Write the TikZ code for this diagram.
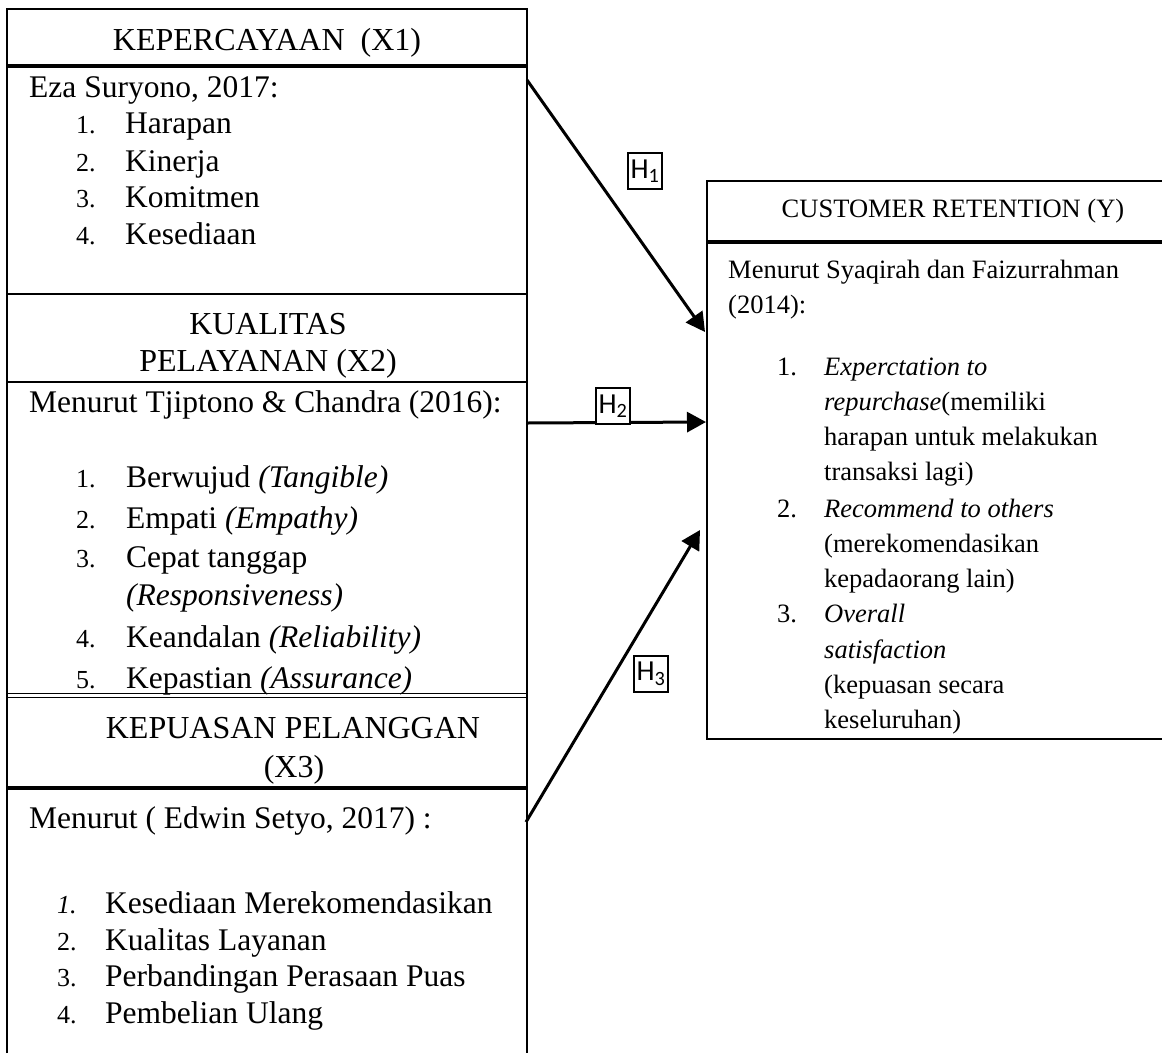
\documentclass[tikz,border=0pt]{standalone}
\usepackage{fontspec}
\setmainfont{Liberation Serif}
\newfontfamily\hypfont{Carlito}
\usetikzlibrary{arrows.meta}

\tikzset{
  head/.style={anchor=base, inner sep=0pt, font=\fontsize{32}{38}\selectfont},
  txt/.style={anchor=base west, inner sep=0pt, font=\fontsize{31.5}{38}\selectfont},
  num/.style={anchor=base west, inner sep=0pt, font=\fontsize{26}{30}\selectfont},
  rtxt/.style={anchor=base west, inner sep=0pt, font=\fontsize{26.5}{32}\selectfont},
  hyp/.style={draw, line width=1.5pt, inner sep=1pt, minimum width=34pt, minimum height=36pt, font=\hypfont\fontsize{29}{30}\selectfont},
  link/.style={line width=3pt, -{Triangle[length=19pt,width=20pt]}},
}

\begin{document}
\begin{tikzpicture}[x=1pt,y=-1pt]
\useasboundingbox (0,0) rectangle (1162,1053);

% left column
\draw[line width=2pt] (7,1053) -- (7,9) -- (527,9) -- (527,1053);
\draw[line width=3.5pt] (7,66) -- (527,66);
\draw[line width=2pt] (7,294) -- (527,294);
\draw[line width=2pt] (7,382) -- (527,382);
\draw[line width=1pt] (7,693) -- (527,693) (7,697) -- (527,697);
\draw[line width=3.5pt] (7,788) -- (527,788);

% right box
\draw[line width=2.5pt] (1162,181) -- (707,181) -- (707,739) -- (1162,739);
\draw[line width=3.5pt] (707,242) -- (1162,242);

% X1
\node[head] (X1) at (267,50) {KEPERCAYAAN\ \ (X1)};
\node[txt] (X1src) at (29,97) {Eza Suryono, 2017:};
\node[num] (X1n1) at (76,133) {1.};
\node[txt] (X1i1) at (125,133) {Harapan};
\node[num] (X1n2) at (76,171) {2.};
\node[txt] (X1i2) at (125,171) {Kinerja};
\node[num] (X1n3) at (76,207) {3.};
\node[txt] (X1i3) at (125,207) {Komitmen};
\node[num] (X1n4) at (76,244) {4.};
\node[txt] (X1i4) at (125,244) {Kesediaan};

% X2
\node[head] (X2a) at (268,334) {KUALITAS};
\node[head] (X2) at (268,371) {PELAYANAN (X2)};
\node[txt] (X2src) at (29,412) {Menurut Tjiptono \& Chandra (2016):};
\node[num] (X2n1) at (76,487) {1.};
\node[txt] (X2i1) at (126,487) {Berwujud \textit{(Tangible)}};
\node[num] (X2n2) at (76,528) {2.};
\node[txt] (X2i2) at (126,528) {Empati \textit{(Empathy)}};
\node[num] (X2n3) at (76,567) {3.};
\node[txt] (X2i3) at (126,567) {Cepat tanggap};
\node[txt] (X2i3b) at (126,605) {\textit{(Responsiveness)}};
\node[num] (X2n4) at (76,647) {4.};
\node[txt] (X2i4) at (126,647) {Keandalan \textit{(Reliability)}};
\node[num] (X2n5) at (76,688) {5.};
\node[txt] (X2i5) at (126,688) {Kepastian \textit{(Assurance)}};

% X3
\node[head] (X3a) at (293,738) {KEPUASAN PELANGGAN};
\node[head] (X3) at (294,777) {(X3)};
\node[txt] (X3src) at (29,828) {Menurut ( Edwin Setyo, 2017) :};
\node[num] (X3n1) at (57,913) {\textit{1.}};
\node[txt] (X3i1) at (105,913) {Kesediaan Merekomendasikan};
\node[num] (X3n2) at (57,950) {2.};
\node[txt] (X3i2) at (105,950) {Kualitas Layanan};
\node[num] (X3n3) at (57,986) {3.};
\node[txt] (X3i3) at (105,986) {Perbandingan Perasaan Puas};
\node[num] (X3n4) at (57,1023) {4.};
\node[txt] (X3i4) at (105,1023) {Pembelian Ulang};

% Y
\node[head, font=\fontsize{26.5}{32}\selectfont] (Y) at (953,217) {CUSTOMER RETENTION (Y)};
\node[rtxt] (Ysrc) at (728,278) {Menurut Syaqirah dan Faizurrahman};
\node[rtxt] (Ysrc2) at (728,313) {(2014):};
\node[rtxt] (Yn1) at (777,375) {1.};
\node[rtxt] (Yi1) at (824,375) {\textit{Experctation to}};
\node[rtxt] (Yi1b) at (824,410) {\textit{repurchase}(memiliki};
\node[rtxt] (Yi1c) at (824,445) {harapan untuk melakukan};
\node[rtxt] (Yi1d) at (824,480) {transaksi lagi)};
\node[rtxt] (Yn2) at (777,517) {2.};
\node[rtxt] (Yi2) at (824,517) {\textit{Recommend to others}};
\node[rtxt] (Yi2b) at (824,552) {(merekomendasikan};
\node[rtxt] (Yi2c) at (824,587) {kepadaorang lain)};
\node[rtxt] (Yn3) at (777,622) {3.};
\node[rtxt] (Yi3) at (824,622) {\textit{Overall}};
\node[rtxt] (Yi3b) at (824,658) {\textit{satisfaction}};
\node[rtxt] (Yi3c) at (824,693) {(kepuasan secara};
\node[rtxt] (Yi3d) at (824,728) {keseluruhan)};

% arrows
\coordinate (A1) at (527,80);
\coordinate (B1) at (705,332);
\coordinate (A2) at (527,423);
\coordinate (B2) at (706,422);
\coordinate (A3) at (526,822);
\coordinate (B3) at (700,530);

\draw[link] (A1) -- (B1);
\draw[link] (A2) -- (B2);
\draw[link] (A3) -- (B3);

\node[hyp] (H1) at (645,171) {H\textsubscript{1}};
\node[hyp, fill=white] (H2) at (613,406) {H\textsubscript{2}};
\node[hyp] (H3) at (651,674) {H\textsubscript{3}};
\end{tikzpicture}
\end{document}
